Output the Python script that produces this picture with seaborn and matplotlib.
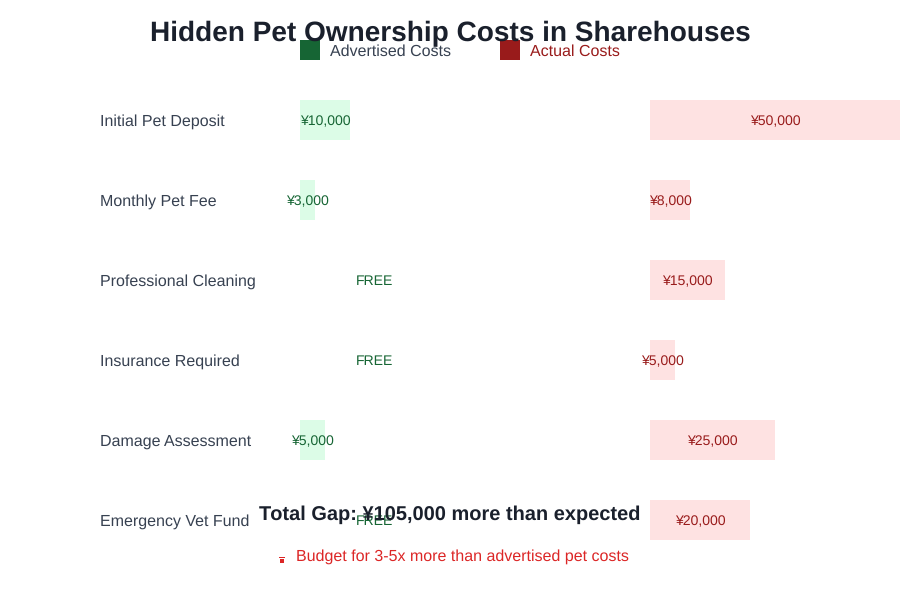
import matplotlib
matplotlib.use("Agg")
import matplotlib.pyplot as plt
import pandas as pd
import seaborn as sns
from matplotlib.patches import Rectangle
from matplotlib.transforms import ScaledTranslation

categories = ["Initial Pet Deposit", "Monthly Pet Fee", "Professional Cleaning",
              "Insurance Required", "Damage Assessment", "Emergency Vet Fund"]
advertised = [10000, 3000, 0, 0, 5000, 0]
actual = [50000, 8000, 15000, 5000, 25000, 20000]

GREEN = "#166534"
RED = "#991b1b"
LIGHT_GREEN = "#dcfce7"
LIGHT_RED = "#fee2e2"
LABEL = "#374151"
DARK = "#1a202c"
TIP = "#dc2626"

sns.set_theme(style="white")
plt.rcParams["font.family"] = ["Liberation Sans", "DejaVu Sans"]
plt.rcParams["text.hinting"] = "no_hinting"
plt.rcParams["text.hinting_factor"] = 1

W, H = 900, 600
df = pd.DataFrame({"category": categories, "advertised": advertised, "actual": actual})


def px_axes(fig, left, top, width, height):
    return fig.add_axes([left / W, 1 - (top + height) / H, width / W, height / H])


def px_rect(fig, left, top, width, height, color):
    fig.add_artist(Rectangle((left / W, 1 - (top + height) / H), width / W, height / H,
                             transform=fig.transFigure, color=color, lw=0))


fig = plt.figure(figsize=(9, 6), dpi=100, facecolor="white")

# both panels use 250px = 50000 yen
ax_adv = px_axes(fig, 300, 80, 250, 480)
ax_act = px_axes(fig, 650, 80, 250, 480)

sns.barplot(data=df, y="category", x="advertised", ax=ax_adv, color=LIGHT_GREEN,
            saturation=1, width=0.5, orient="h", linewidth=0)
sns.barplot(data=df, y="category", x="actual", ax=ax_act, color=LIGHT_RED,
            saturation=1, width=0.5, orient="h", linewidth=0)

for ax in (ax_adv, ax_act):
    ax.set_xlim(0, 50000)
    ax.set_ylim(5.5, -0.5)
    ax.set_xlabel("")
    ax.set_ylabel("")
    ax.set_xticks([])
    ax.patch.set_alpha(0)
    sns.despine(ax=ax, left=True, bottom=True)

ax_act.set_yticks([])
ax_adv.set_yticks(range(len(categories)))
ax_adv.set_yticklabels(categories, ha="left", fontsize=11.52, color=LABEL)
ax_adv.tick_params(axis="y", length=0, pad=144)
for lab in ax_adv.get_yticklabels():
    lab.set_transform(lab.get_transform() + ScaledTranslation(0, 0.5 / 100, fig.dpi_scale_trans))

for i, v in enumerate(advertised):
    if v > 0:
        ax_adv.text(v / 2, i, f"¥{v:,}", ha="center", va="center_baseline", fontsize=10.08, color=GREEN)
    else:
        ax_adv.text(15000, i, "FREE", ha="center", va="center_baseline", fontsize=10.08, color=GREEN)

for i, v in enumerate(actual):
    ax_act.text(v / 2, i, f"¥{v:,}", ha="center", va="center_baseline", fontsize=10.08, color=RED)

# title and legend
fig.text(450 / W, 1 - 31 / H, "Hidden Pet Ownership Costs in Sharehouses", ha="center", va="center_baseline",
         fontsize=20.16, fontweight="bold", color=DARK)
px_rect(fig, 300, 40, 20, 20, GREEN)
px_rect(fig, 500, 40, 20, 20, RED)
fig.text(330 / W, 1 - 50 / H, "Advertised Costs", ha="left", va="center_baseline", fontsize=11.52, color=LABEL)
fig.text(530 / W, 1 - 50 / H, "Actual Costs", ha="left", va="center_baseline", fontsize=11.52, color=RED)

# footer
fig.text(450 / W, 1 - 513 / H, "Total Gap: ¥105,000 more than expected", ha="center", va="center_baseline",
         fontsize=14.4, fontweight="bold", color=DARK, zorder=5)
fig.text(296 / W, 1 - 555 / H, "Budget for 3-5x more than advertised pet costs", ha="left", va="center_baseline",
         fontsize=11.52, color=TIP)
px_rect(fig, 280, 559, 4, 4, TIP)
px_rect(fig, 279, 557, 6, 1, TIP)

fig.savefig("out.png", dpi=100)
